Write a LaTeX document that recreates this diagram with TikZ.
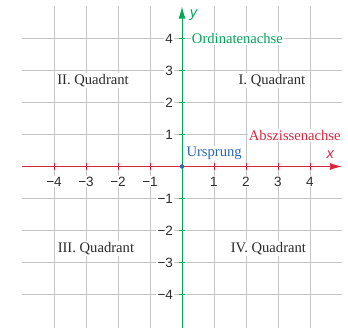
\documentclass[tikz,border=0pt]{standalone}
\usepackage{fontspec}
\setmainfont{Liberation Serif}
\setsansfont{Liberation Sans}
\usepackage{tikz}
\usetikzlibrary{arrows.meta, positioning}
\definecolor{labeltext}{HTML}{2B2B2B}
\definecolor{gridgray}{HTML}{C4C4C4}
\definecolor{abszisse}{HTML}{D9263F}
\definecolor{ordinate}{HTML}{00A65A}
\definecolor{ursprung}{HTML}{2A68B0}
% Zahl mit echtem Minuszeichen
\newcommand{\achsenzahl}[1]{\ifnum#1<0 −\number\numexpr-#1\relax\else#1\fi}

\begin{document}
\begin{tikzpicture}[
    gitter/.style={draw=gridgray, line width=0.6pt},
    achse/.style={line width=0.8pt, -{Latex[length=3.8mm, width=2.2mm]}},
    zahl/.style={font=\sffamily\fontsize{12}{14}\selectfont, text=labeltext, fill=white, inner sep=1pt},
    schrift/.style={font=\rmfamily\fontsize{13}{15}\selectfont, fill=white, inner sep=1pt},
    quadrant/.style={schrift, text=labeltext}
  ]
    \useasboundingbox (-5.6875,-5.016) rectangle (5.1875,5.203);

    % Gitter
    \foreach \i in {-4,...,-1,1,2,3,4} {
      \draw[gitter] (\i,-5.1) -- (\i,5);
      \draw[gitter] (-5,\i) -- (5,\i);
    }

    % Quadranten
    \node[quadrant] (q1) at (2.81,2.69) {I. Quadrant};
    \node[quadrant] (q2) at (-2.78,2.69) {II. Quadrant};
    \node[quadrant] (q3) at (-2.69,-2.57) {III. Quadrant};
    \node[quadrant] (q4) at (2.7,-2.57) {IV. Quadrant};

    % Achsenbeschriftungen
    \node[schrift, text=ordinate, anchor=west] (ordname) at (0.27,4) {Ordinatenachse};
    \node[schrift, text=abszisse, anchor=east] (absname) at (5,0.97) {Abszissenachse};
    \node[schrift, text=ursprung, anchor=west] (uname) at (0.1,0.42) {Ursprung};

    % Zahlen auf den Achsen
    \foreach \i in {-4,...,-1,1,2,3,4} {
      \node[zahl] (xz\i) at (\i,-0.47) {\achsenzahl{\i}};
      \node[zahl, anchor=east] (yz\i) at (-0.24,\i) {\achsenzahl{\i}};
    }

    % Achsen
    \coordinate (xanf) at (-5,0);
    \coordinate (xend) at (5,0);
    \coordinate (yanf) at (0,-5.1);
    \coordinate (yend) at (0,5);
    \draw[achse, abszisse] (xanf) -- (xend);
    \draw[achse, ordinate] (yanf) -- (yend);
    \foreach \i in {-4,...,-1,1,2,3,4} {
      \draw[abszisse, line width=0.8pt] (\i,-0.1) -- (\i,0.1);
      \draw[ordinate, line width=0.8pt] (-0.1,\i) -- (0.1,\i);
    }
    \node[font=\sffamily\itshape\fontsize{13}{15}\selectfont, text=abszisse] (xname) at (4.63,0.38) {x};
    \node[font=\sffamily\itshape\fontsize{13}{15}\selectfont, text=ordinate] (yname) at (0.36,4.74) {y};

    % Ursprung
    \node[circle, fill=ursprung, inner sep=0pt, minimum size=4pt] (O) at (0,0) {};
  \end{tikzpicture}
\end{document}
